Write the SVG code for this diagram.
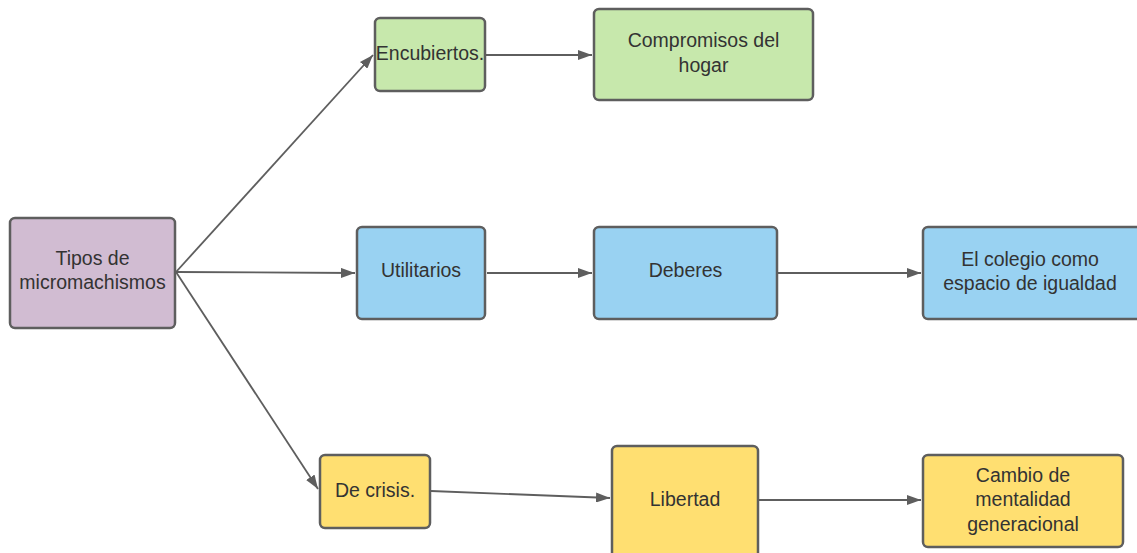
<svg xmlns="http://www.w3.org/2000/svg" width="1137" height="553" viewBox="0 0 1137 553">
<style>
.n{stroke:#5e5e5e;stroke-width:2.5}
.p{fill:#d1bcd2}.g{fill:#c7e8ac}.b{fill:#99d2f2}.y{fill:#ffdf71}
text{font-family:"Liberation Sans",Arial,sans-serif;font-size:19.5px;fill:#333;text-anchor:middle}
.c{stroke:#5e5e5e;stroke-width:1.8;fill:none;marker-end:url(#a)}
</style>
<defs>
<marker id="a" viewBox="0 0 14 10" refX="14" refY="5" markerWidth="14" markerHeight="10" markerUnits="userSpaceOnUse" orient="auto">
<path d="M0,0 L14,5 L0,10 z" fill="#5e5e5e"/>
</marker>
</defs>
<rect width="1137" height="553" fill="#fff"/>
<g id="connectors">
<path class="c" d="M176,272 L373,55"/>
<path class="c" d="M176,272 L355,273"/>
<path class="c" d="M176,272 L318,489"/>
<path class="c" d="M486,55 L592,55"/>
<path class="c" d="M487,273 L592,273"/>
<path class="c" d="M778,273 L921,273"/>
<path class="c" d="M431,491 L610,498"/>
<path class="c" d="M759,500 L921,500"/>
</g>
<g id="tipos"><rect class="n p" x="10" y="218" width="165" height="110" rx="5"/><text x="92.5" y="265">Tipos de</text><text x="92.5" y="289">micromachismos</text></g>
<g id="encubiertos"><rect class="n g" x="375" y="18" width="110" height="73" rx="5"/><text x="430" y="60">Encubiertos.</text></g>
<g id="compromisos"><rect class="n g" x="594" y="9" width="219" height="91" rx="5"/><text x="703.5" y="47">Compromisos del</text><text x="703.5" y="72">hogar</text></g>
<g id="utilitarios"><rect class="n b" x="357" y="227" width="128" height="92" rx="5"/><text x="421" y="277">Utilitarios</text></g>
<g id="deberes"><rect class="n b" x="594" y="227" width="183" height="92" rx="5"/><text x="685.5" y="277">Deberes</text></g>
<g id="colegio"><rect class="n b" x="923" y="227" width="220" height="92" rx="5"/><text x="1030" y="266">El colegio como</text><text x="1030" y="290">espacio de igualdad</text></g>
<g id="crisis"><rect class="n y" x="320" y="455" width="110" height="73" rx="5"/><text x="375" y="497">De crisis.</text></g>
<g id="libertad"><rect class="n y" x="612" y="446" width="146" height="115" rx="5"/><text x="685" y="506">Libertad</text></g>
<g id="cambio"><rect class="n y" x="923" y="455" width="200" height="92" rx="5"/><text x="1023" y="482">Cambio de</text><text x="1023" y="506">mentalidad</text><text x="1023" y="531">generacional</text></g>
</svg>
